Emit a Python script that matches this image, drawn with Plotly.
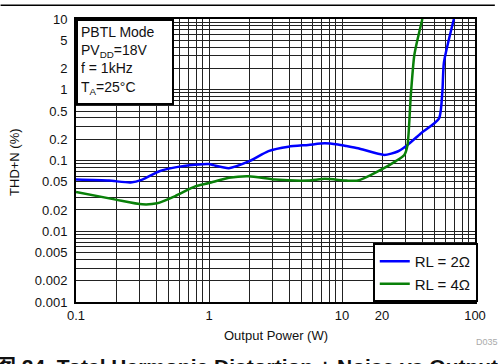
import plotly.graph_objects as go

# ---- data ----
blue_x = [0.1, 0.177, 0.257, 0.315, 0.419, 0.557, 0.787, 1.0, 1.08, 1.41, 1.99, 2.8, 3.96, 5.57, 7.43, 9.33, 10.8, 13.2, 20.8, 26.2, 31.1, 39.1, 53.6, 56.8, 58.4, 69.4]
blue_y = [0.0537, 0.052, 0.049, 0.0537, 0.070, 0.080, 0.087, 0.089, 0.086, 0.078, 0.097, 0.136, 0.157, 0.166, 0.175, 0.168, 0.160, 0.149, 0.120, 0.134, 0.166, 0.241, 0.39, 0.92, 2.43, 10]

green_x = [0.1, 0.199, 0.315, 0.407, 0.557, 0.787, 1.0, 1.41, 1.99, 3.14, 5.57, 7.43, 10.8, 13.2, 18.6, 25.4, 29.4, 31.1, 32.9, 34.9, 36.5, 40.2]
green_y = [0.036, 0.028, 0.024, 0.0248, 0.0314, 0.043, 0.048, 0.057, 0.060, 0.0537, 0.052, 0.055, 0.052, 0.052, 0.070, 0.098, 0.120, 0.166, 0.83, 3.0, 4.6, 10]

x_labels = {0.1: "0.1", 1: "1", 10: "10", 20: "20", 100: "100"}
y_labels = {10: "10", 5: "5", 2: "2", 1: "1", 0.5: "0.5", 0.2: "0.2", 0.1: "0.1",
            0.05: "0.05", 0.02: "0.02", 0.01: "0.01", 0.005: "0.005",
            0.002: "0.002", 0.001: "0.001"}

# grid values: every 1..9 in each decade
def decade_vals(lo_exp, hi_exp):
    vals = []
    for e in range(lo_exp, hi_exp):
        for m in range(1, 10):
            vals.append(round(m * 10 ** e, 6))
    vals.append(round(10 ** hi_exp, 6))
    return vals

xv = decade_vals(-1, 2)
yv = decade_vals(-3, 1)
xt = [x_labels.get(v, "") for v in xv]
yt = [y_labels.get(v, "") for v in yv]

FONT = "Liberation Sans, Arial, sans-serif"

fig = go.Figure()
fig.add_trace(go.Scatter(x=blue_x, y=blue_y, mode="lines", name="RL = 2Ω",
                         line=dict(color="#0000ff", width=2.5, shape="spline", smoothing=0.6)))
fig.add_trace(go.Scatter(x=green_x, y=green_y, mode="lines", name="RL = 4Ω",
                         line=dict(color="#098009", width=2.5, shape="spline", smoothing=0.6)))

fig.update_xaxes(type="log", range=[-1, 2], tickvals=xv, ticktext=xt,
                 showgrid=True, gridcolor="#222", gridwidth=1, zeroline=False,
                 showline=True, linecolor="black", linewidth=2, mirror=True,
                 ticks="", tickfont=dict(family=FONT, size=13, color="#111"))
fig.update_yaxes(type="log", range=[-3, 1], tickvals=yv, ticktext=yt,
                 showgrid=True, gridcolor="#222", gridwidth=1, zeroline=False,
                 showline=True, linecolor="black", linewidth=2, mirror=True,
                 ticks="", ticklabelstandoff=4,
                 tickfont=dict(family=FONT, size=13, color="#111"))

W, H = 498, 364
L, R, T, B = 76, 20, 16, 62
pw, ph = W - L - R, H - T - B

fig.update_layout(
    width=W, height=H,
    margin=dict(l=L, r=R, t=T, b=B),
    paper_bgcolor="white", plot_bgcolor="white",
    font=dict(family=FONT, size=13, color="#111"),
    showlegend=True,
    legend=dict(x=(375 - L) / pw, y=0, xanchor="left", yanchor="bottom",
                bgcolor="white", bordercolor="black", borderwidth=2,
                font=dict(family=FONT, size=15, color="#111"),
                itemwidth=30, tracegroupgap=0),
)

# info box
fig.add_annotation(xref="paper", yref="paper", x=0, y=1, xanchor="left", yanchor="top",
                   text="PBTL Mode<br>PV<sub>DD</sub>=18V<br>f = 1kHz<br>T<sub>A</sub>=25°C",
                   showarrow=False, align="left", valign="top",
                   font=dict(family=FONT, size=14, color="#111"),
                   bgcolor="white", bordercolor="black", borderwidth=2, borderpad=3,
                   width=88, height=76)

# axis titles
fig.add_annotation(xref="paper", yref="paper", x=0.5, y=-(336 - 302) / ph,
                   text="Output Power (W)", showarrow=False,
                   xanchor="center", yanchor="middle",
                   font=dict(family=FONT, size=13, color="#111"))
fig.add_annotation(xref="paper", yref="paper", x=-(76 - 14) / pw, y=(302 - 160) / ph,
                   text="THD+N (%)", showarrow=False, textangle=-90,
                   xanchor="center", yanchor="middle",
                   font=dict(family=FONT, size=13, color="#111"))

# small code label (cut at right edge as in the reference)
fig.add_annotation(xref="paper", yref="paper", x=(477 - L) / pw, y=-(342 - 302) / ph,
                   text="D035", showarrow=False, xanchor="left", yanchor="middle",
                   font=dict(family=FONT, size=9, color="#aaa"))

# figure caption (cut at bottom edge as in the reference)
fig.add_annotation(xref="paper", yref="paper", x=(-8 - L) / pw, y=-(367 - 302) / ph,
                   text="<b>图 24. Total Harmonic Distortion + Noise vs Output Power</b>",
                   showarrow=False, xanchor="left", yanchor="middle",
                   font=dict(family="Liberation Sans, Noto Sans CJK SC, sans-serif", size=21, color="#111"))

# top rule
fig.add_shape(type="line", xref="paper", yref="paper",
              x0=-L / pw, x1=(W - L) / pw, y0=1 + (T - 2) / ph, y1=1 + (T - 2) / ph,
              line=dict(color="black", width=1.5))

fig.write_html("out.html", config={"displayModeBar": False},
               post_script="document.body.style.margin='0';document.body.style.overflow='hidden';")
